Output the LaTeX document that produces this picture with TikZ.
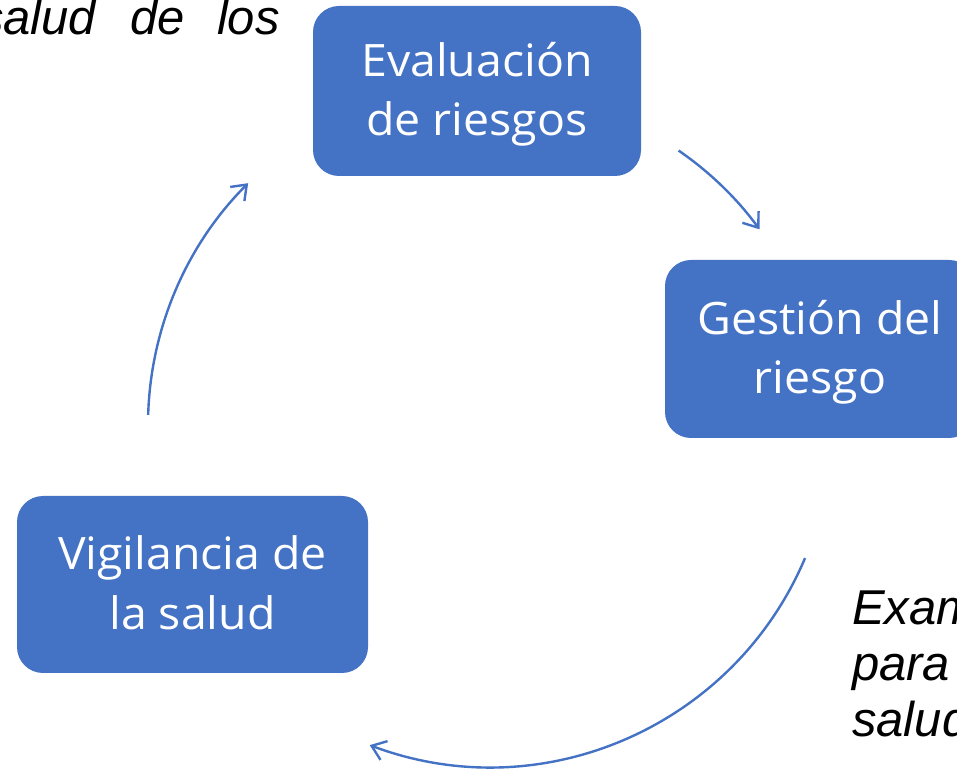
\documentclass[tikz,border=0pt]{standalone}
\usepackage{fontspec}
\setmainfont{Open Sans}[FakeStretch=1.04]
\newfontfamily\arialit{Liberation Sans}
\usetikzlibrary{arrows.meta}
\definecolor{officeblue}{HTML}{4472C4}
\tikzset{
  cyclebox/.style={fill=officeblue, draw=none, rounded corners=19.5pt, inner sep=0pt,
    text=white, align=center, font={\fontsize{33.5}{44.6}\selectfont}},
  cyclearrow/.style={draw=officeblue, line width=1.8pt,
    -{Straight Barb[length=10pt, width=15pt, line width=1.8pt]}},
  sidetext/.style={inner sep=0pt, font={\arialit\itshape\fontsize{36.7}{42}\selectfont}, align=left}
}
\newcommand{\topstrut}{\rule{0pt}{32pt}}
\newcommand{\botstrut}{\rule[-9.5pt]{0pt}{9.5pt}}
\begin{document}
\begin{tikzpicture}[x=0.75pt, y=0.75pt]
\useasboundingbox (0,0) rectangle (957,768);
\clip (0,0) rectangle (957,768);

% boxes
\node[cyclebox, minimum width=246pt, minimum height=127.5pt] (eval) at (477,677)
  {\topstrut Evaluación\\de riesgos\botstrut};
\node[cyclebox, minimum width=232.5pt, minimum height=133.5pt] (gest) at (820,419)
  {\topstrut Gestión del\\riesgo\botstrut};
\node[cyclebox, minimum width=263.25pt, minimum height=132.75pt] (vig) at (192.5,183.5)
  {\topstrut Vigilancia de\\la salud\botstrut};

% side texts
\node[sidetext, anchor=base east] (toptext) at (280,733)
  {salud\ \hspace{15.5pt}de\ \hspace{14pt}los};
\node[sidetext, anchor=north west] (righttext) at (852,184)
  {\rule{0pt}{30pt}Exam\\para\\salud};

% cycle arrows
\coordinate (ctr) at (490,343);
\draw[cyclearrow] ([shift={(55.5:333)}]ctr) arc[start angle=55.5, end angle=36, radius=250pt];
\draw[cyclearrow] ([shift={(-22.9:342)}]ctr) arc[start angle=-22.9, end angle=-110.6, radius=256.5pt];
\draw[cyclearrow] ([shift={(178.3:342)}]ctr) arc[start angle=178.3, end angle=135, radius=256.5pt];
\end{tikzpicture}
\end{document}
